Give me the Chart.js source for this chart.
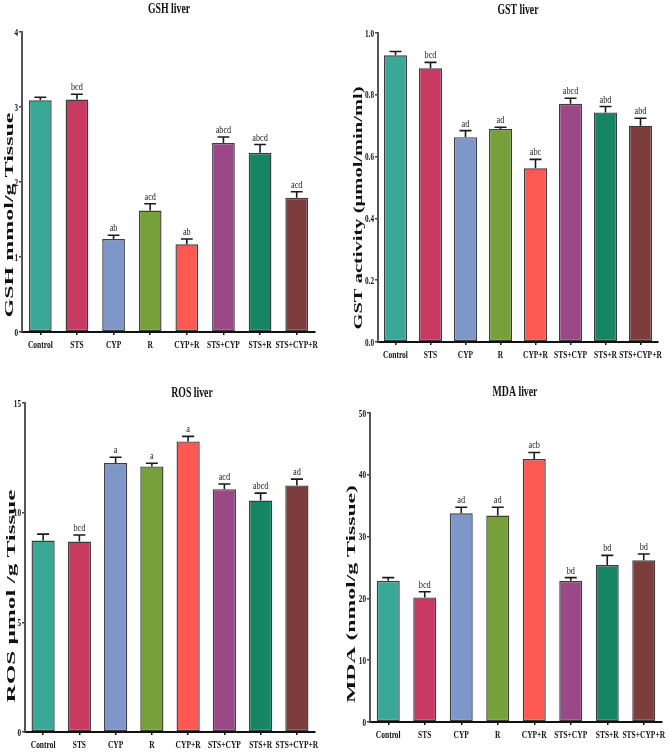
<!DOCTYPE html>
<html>
<head>
<meta charset="utf-8">
<script src="https://cdn.jsdelivr.net/npm/chart.js@4/dist/chart.umd.min.js"></script>
<style>
  body { margin: 0; background: #fff; }
  #wrap { position: relative; width: 669px; height: 752px; }
  #wrap canvas { position: absolute; }
</style>
</head>
<body>
<div id="wrap">
  <canvas id="c-gsh" width="335" height="376" style="left:0;top:0"></canvas>
  <canvas id="c-gst" width="334" height="376" style="left:335px;top:0"></canvas>
  <canvas id="c-ros" width="335" height="376" style="left:0;top:376px"></canvas>
  <canvas id="c-mda" width="334" height="376" style="left:335px;top:376px"></canvas>
</div>
<script>
(function () {
  'use strict';

  var groups = ['Control', 'STS', 'CYP', 'R', 'CYP+R', 'STS+CYP', 'STS+R', 'STS+CYP+R'];
  var barColors = ['#3aa897', '#c93a63', '#7f96c8', '#77a03b', '#fd5852', '#9a4886', '#158661', '#7e3d3d'];

  var gshMean = [3.09, 3.10, 1.24, 1.62, 1.17, 2.52, 2.39, 1.79];
  var gshErr = [0.04, 0.07, 0.05, 0.09, 0.07, 0.08, 0.11, 0.08];
  var gshLetters = ['', 'bcd', 'ab', 'acd', 'ab', 'abcd', 'abcd', 'acd'];

  var gstMean = [0.928, 0.886, 0.663, 0.689, 0.562, 0.771, 0.743, 0.700];
  var gstErr = [0.012, 0.019, 0.021, 0.006, 0.029, 0.018, 0.019, 0.024];
  var gstLetters = ['', 'bcd', 'ad', 'ad', 'abc', 'abcd', 'abd', 'abd'];

  var rosMean = [8.73, 8.68, 12.26, 12.11, 13.25, 11.07, 10.55, 11.24];
  var rosErr = [0.29, 0.30, 0.27, 0.14, 0.23, 0.24, 0.34, 0.29];
  var rosLetters = ['', 'bcd', 'a', 'a', 'a', 'acd', 'abcd', 'ad'];

  var mdaMean = [22.86, 20.16, 33.78, 33.4, 42.54, 22.86, 25.4, 26.16];
  var mdaErr = [0.5, 0.92, 0.98, 1.35, 1.08, 0.5, 1.57, 1.03];
  var mdaLetters = ['', 'bcd', 'ad', 'ad', 'acb', 'bd', 'bd', 'bd'];

  var SERIF = '"Liberation Serif", "Times New Roman", serif';

  // text in the figure is horizontally squeezed, so draw it through a scale
  function squeezed(ctx, text, x, y, font, align, sx) {
    ctx.save();
    ctx.translate(x, y);
    ctx.scale(sx, 1);
    ctx.font = font;
    ctx.textAlign = align;
    ctx.textBaseline = 'alphabetic';
    ctx.fillText(text, 0, 0);
    ctx.restore();
  }

  var errorBars = {
    id: 'errorBars',
    afterDatasetsDraw: function (chart) {
      var ctx = chart.ctx;
      var y = chart.scales.y;
      chart.data.datasets.forEach(function (ds, di) {
        chart.getDatasetMeta(di).data.forEach(function (bar, i) {
          var yTop = y.getPixelForValue(ds.data[i] + ds.errors[i]);
          var half = bar.width * 0.26;
          ctx.save();
          ctx.strokeStyle = '#1a1a1a';
          ctx.lineWidth = 1.6;
          ctx.beginPath();
          ctx.moveTo(bar.x, bar.y);
          ctx.lineTo(bar.x, yTop);
          ctx.moveTo(bar.x - half, yTop);
          ctx.lineTo(bar.x + half, yTop);
          ctx.stroke();
          ctx.fillStyle = '#222';
          if (ds.letters[i]) squeezed(ctx, ds.letters[i], bar.x, yTop - 4, '11px ' + SERIF, 'center', 0.75);
          ctx.restore();
        });
      });
    }
  };

  var panelText = {
    id: 'panelText',
    afterDraw: function (chart, args, o) {
      var ctx = chart.ctx;
      var x = chart.scales.x;
      var y = chart.scales.y;
      ctx.save();
      ctx.fillStyle = '#111';
      y.ticks.forEach(function (t, i) {
        squeezed(ctx, t.label, y.right - 4, y.getPixelForTick(i) + 3.5, 'bold 10px ' + SERIF, 'right', 0.72);
      });
      chart.data.labels.forEach(function (lab, i) {
        squeezed(ctx, lab, x.getPixelForValue(i), x.top + 16, 'bold 11px ' + SERIF, 'center', 0.68);
      });
      squeezed(ctx, o.title, o.titleX, o.titleY, 'bold 14px ' + SERIF, 'center', 0.7);
      ctx.translate(o.yTitleX, o.yTitleY);
      ctx.rotate(-Math.PI / 2);
      ctx.font = 'bold 12px ' + SERIF;
      var w = ctx.measureText(o.yTitle).width;
      ctx.scale(o.yTitleLen / w, 1);
      ctx.textAlign = 'center';
      ctx.textBaseline = 'alphabetic';
      ctx.fillText(o.yTitle, 0, 0);
      ctx.restore();
    }
  };

  function makePanel(id, means, errs, letters, yMax, yStep, decimals, text, box) {
    return new Chart(document.getElementById(id), {
      type: 'bar',
      data: {
        labels: groups,
        datasets: [{
          data: means,
          errors: errs,
          letters: letters,
          backgroundColor: barColors,
          borderColor: '#3d3d3d',
          borderWidth: 1.4,
          borderSkipped: false,
          barPercentage: box.bar,
          categoryPercentage: 1
        }]
      },
      options: {
        responsive: false,
        animation: false,
        events: [],
        layout: { padding: { top: box.top, right: box.right, left: 0, bottom: 0 } },
        plugins: { legend: { display: false }, tooltip: { enabled: false }, panelText: text },
        scales: {
          x: {
            ticks: { display: false },
            grid: { display: true, offset: false, drawOnChartArea: false, tickLength: 3, color: '#111', lineWidth: 1.5 },
            border: { color: '#111', width: 2 },
            afterFit: function (s) { s.height = box.bottom; }
          },
          y: {
            min: 0,
            max: yMax,
            ticks: {
              display: false,
              stepSize: yStep,
              callback: function (v) { return Number(v).toFixed(decimals); }
            },
            grid: { display: true, drawOnChartArea: false, tickLength: 3, color: '#444', lineWidth: 1.5 },
            border: { color: '#555', width: 2 },
            afterFit: function (s) { s.width = box.left; }
          }
        }
      },
      plugins: [errorBars, panelText]
    });
  }

  makePanel('c-gsh', gshMean, gshErr, gshLetters, 4, 1, 0,
    { title: 'GSH liver', titleX: 169, titleY: 13, yTitle: 'GSH mmol/g Tissue', yTitleX: 13, yTitleY: 215, yTitleLen: 205 },
    { left: 22, top: 32, right: 20, bottom: 44, bar: 0.62 });
  makePanel('c-gst', gstMean, gstErr, gstLetters, 1, 0.2, 1,
    { title: 'GST liver', titleX: 183, titleY: 14, yTitle: 'GST activity (\u00b5mol/min/ml)', yTitleX: 27, yTitleY: 208, yTitleLen: 243 },
    { left: 43, top: 33, right: 11, bottom: 34, bar: 0.66 });
  makePanel('c-ros', rosMean, rosErr, rosLetters, 15, 5, 0,
    { title: 'ROS liver', titleX: 192, titleY: 21, yTitle: 'ROS \u00b5mol /g Tissue', yTitleX: 15, yTitleY: 220, yTitleLen: 213 },
    { left: 25, top: 27, right: 20, bottom: 20, bar: 0.64 });
  makePanel('c-mda', mdaMean, mdaErr, mdaLetters, 50, 10, 0,
    { title: 'MDA liver', titleX: 180, titleY: 20, yTitle: 'MDA (nmol/g Tissue)', yTitleX: 20, yTitleY: 218, yTitleLen: 218 },
    { left: 35, top: 37, right: 7, bottom: 30, bar: 0.63 });
})();
</script>
</body>
</html>
